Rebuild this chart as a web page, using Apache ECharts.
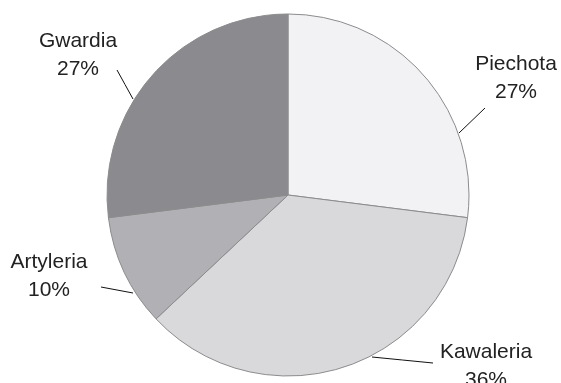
<!DOCTYPE html>
<html><head><meta charset="utf-8">
<script src="https://cdn.jsdelivr.net/npm/echarts@6/dist/echarts.min.js"></script>
<style>html,body{margin:0;padding:0;background:#fff}#c{width:561px;height:383px}</style>
</head><body><div id="c"></div>
<script>
const categories = ['Piechota', 'Kawaleria', 'Artyleria', 'Gwardia'];
const values = [27, 36, 10, 27];
const colors = ['#f2f2f4', '#d9d9dc', '#b1b1b5', '#8b8b8f'];

// label placement (layout only): label block centre and leader line ends
const labelPlacement = {
  Piechota:  {x: 516, y: 78,  line: [[459, 133], [485, 108]]},
  Kawaleria: {x: 486, y: 366, line: [[372, 357], [433, 363]]},
  Artyleria: {x: 49,  y: 276, line: [[133, 293], [101, 287]]},
  Gwardia:   {x: 78,  y: 55,  line: [[133, 99],  [117, 70]]}
};

const chart = echarts.init(document.getElementById('c'), null, {renderer: 'canvas'});
chart.setOption({
  animation: false,
  backgroundColor: '#ffffff',
  series: [{
    type: 'pie',
    center: [288, 195],
    radius: 181,
    startAngle: 90,
    clockwise: true,
    data: categories.map((c, i) => ({name: c, value: values[i], itemStyle: {color: colors[i]}})),
    itemStyle: {borderColor: '#8c8c8e', borderWidth: 1},
    label: {
      show: true,
      position: 'outside',
      formatter: '{b}\n{d}%',
      fontFamily: 'Liberation Sans, Arial, sans-serif',
      fontSize: 21,
      color: '#222',
      lineHeight: 28,
      align: 'center'
    },
    labelLine: {show: true, length: 28, length2: 0, lineStyle: {color: '#111', width: 1}},
    labelLayout: function (params) {
      const p = labelPlacement[categories[params.dataIndex]];
      const a = p.line[0], b = p.line[1];
      return {
        x: p.x, y: p.y, align: 'center', verticalAlign: 'middle',
        labelLinePoints: [a, [(a[0] + b[0]) / 2, (a[1] + b[1]) / 2], b]
      };
    },
    emphasis: {disabled: true}
  }]
});
</script></body></html>
